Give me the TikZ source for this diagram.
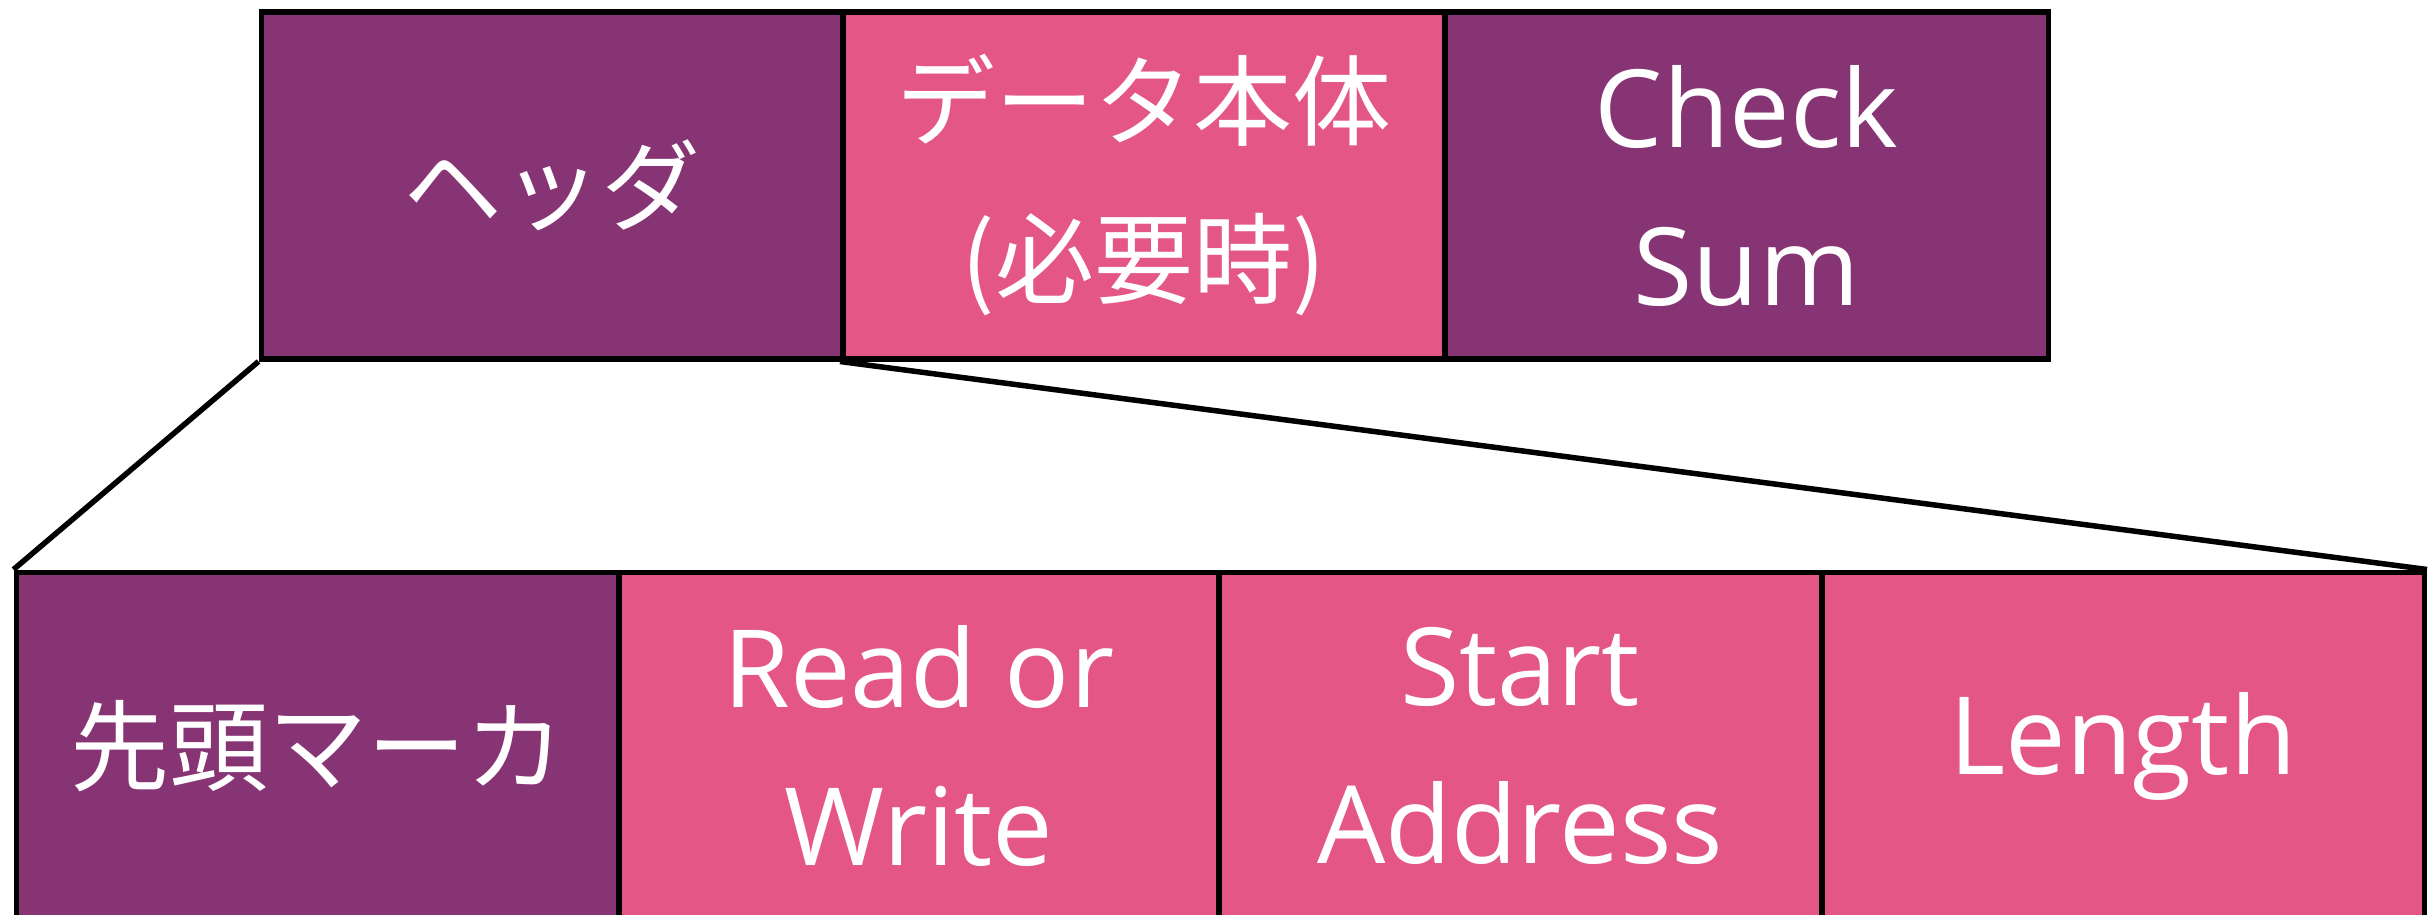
\documentclass[tikz,border=0pt]{standalone}
\usepackage{fontspec}
\setmainfont{Noto Sans CJK JP}
\newfontfamily\latinfont{Open Sans}
\definecolor{plum}{RGB}{134,52,115}
\definecolor{rose}{RGB}{228,86,133}
\begin{document}
\begin{tikzpicture}[x=1pt,y=-1pt,
  cell/.style={draw=black, line width=5.5pt, inner sep=0pt, anchor=north west,
    text=white, align=center, font=\fontsize{99}{158}\selectfont},
  lat/.style={font=\latinfont\fontsize{108}{158}\selectfont},
  pcell/.style={cell, fill=plum},
  rcell/.style={cell, fill=rose},
  link/.style={draw=black, line width=5.5pt}]
\useasboundingbox (0,0) rectangle (2431,915);
\begin{scope}
\clip (0,0) rectangle (2431,915);
% top row
\node[pcell, minimum width=581.5pt, minimum height=346.5pt] (hdr) at (258.5,9.5) {ヘッダ};
\node[rcell, minimum width=602pt, minimum height=346.5pt] (data) at (840,9.5) {データ本体\\(必要時)};
\node[pcell, lat, minimum width=603.5pt, minimum height=346.5pt] (sum) at (1442,9.5) {Check\\Sum};
% bottom row
\node[pcell, minimum width=602.5pt, minimum height=348pt] (mark) at (13.5,569.5) {先頭マーカ};
\node[rcell, lat, minimum width=600pt, minimum height=348pt] (rw) at (616,569.5) {Read or\\Write};
\node[rcell, lat, minimum width=603pt, minimum height=348pt] (addr) at (1216,569.5) {Start\\Address};
\node[rcell, lat, minimum width=602.5pt, minimum height=348pt] (len) at (1819,569.5) {Length};
% connectors
\draw[link] (hdr.south west) -- (mark.north west);
\draw[link] (data.south west) -- (len.north east);
\end{scope}
\end{tikzpicture}
\end{document}
